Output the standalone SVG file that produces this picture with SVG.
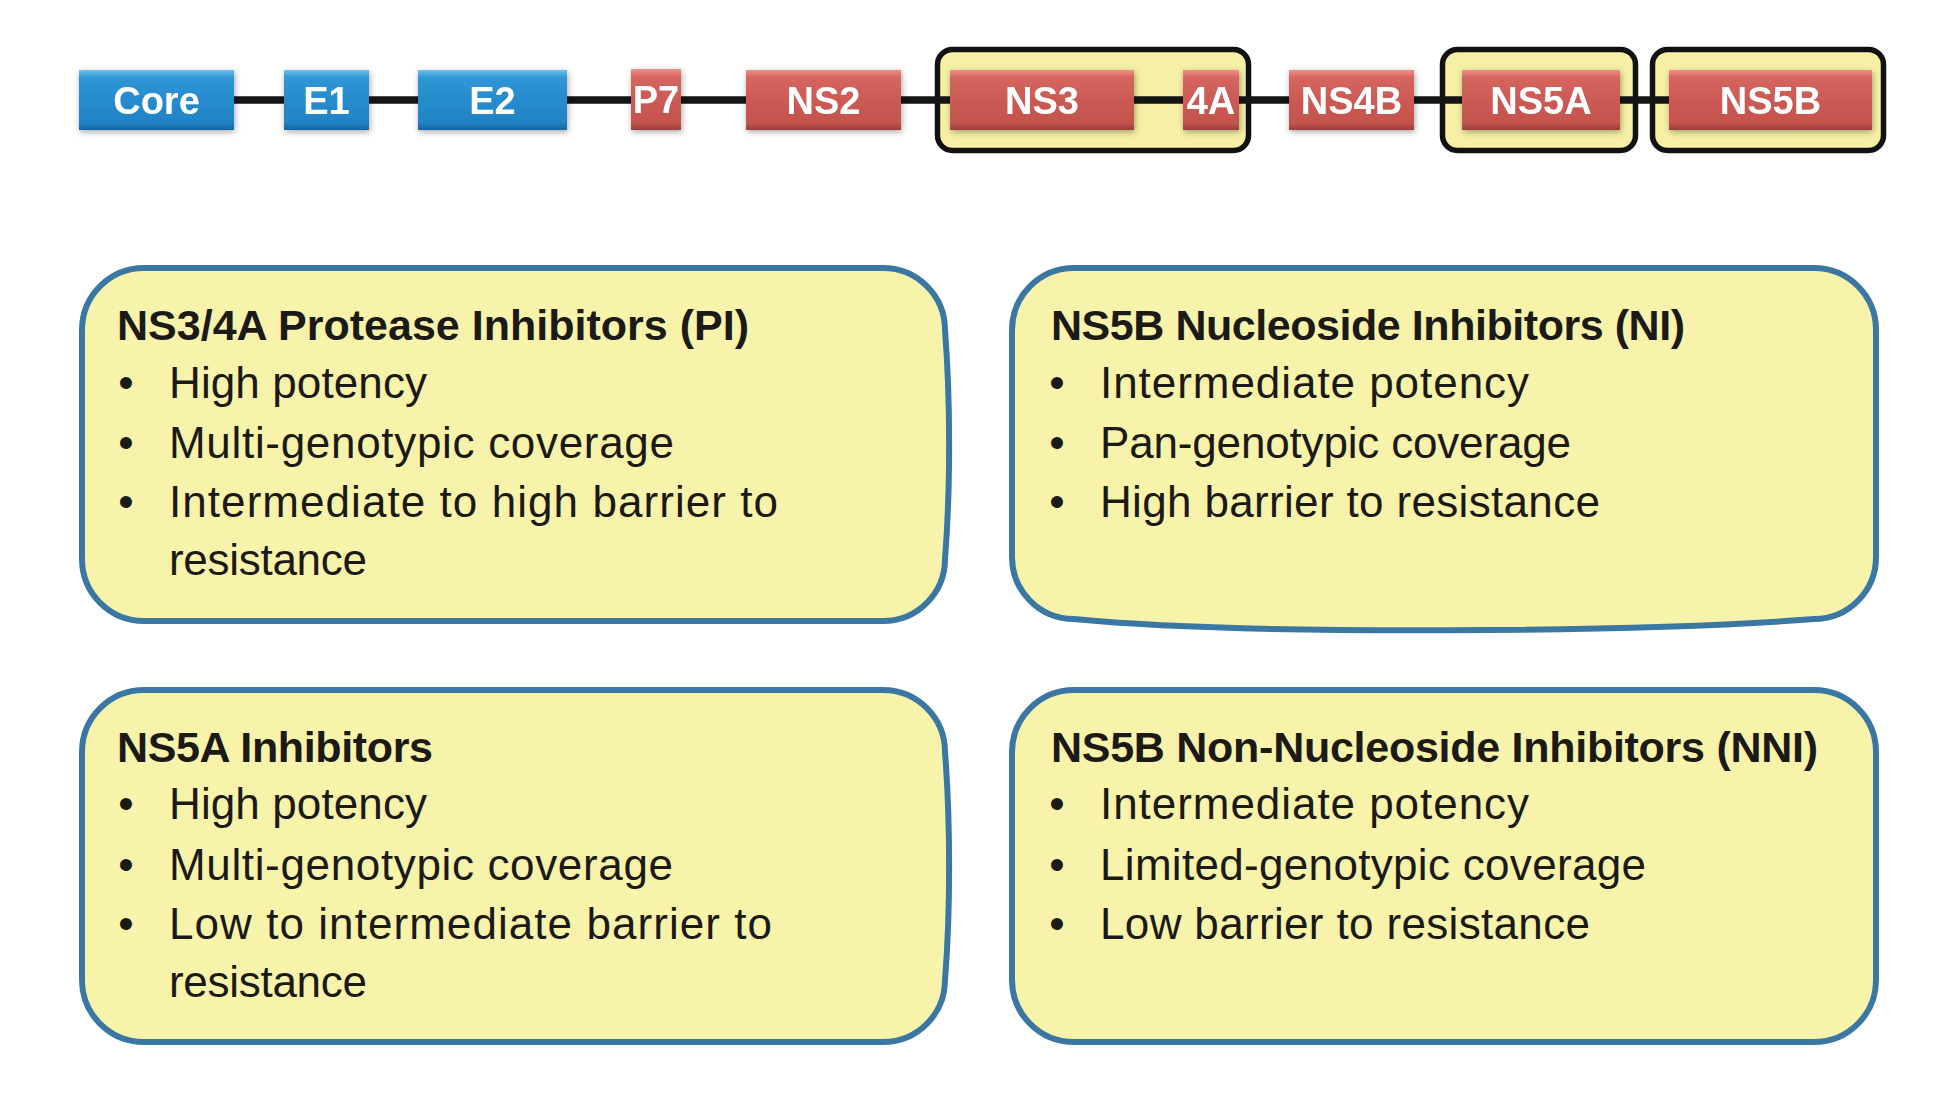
<svg xmlns="http://www.w3.org/2000/svg" width="1934" height="1098" viewBox="0 0 1934 1098">
<defs>
<linearGradient id="gBlue" x1="0" y1="0" x2="0" y2="1">
<stop offset="0" stop-color="#6ec3f0"/>
<stop offset="0.12" stop-color="#3197d6"/>
<stop offset="0.5" stop-color="#268bcd"/>
<stop offset="0.88" stop-color="#2183c6"/>
<stop offset="1" stop-color="#17649e"/>
</linearGradient>
<linearGradient id="gRed" x1="0" y1="0" x2="0" y2="1">
<stop offset="0" stop-color="#f0928a"/>
<stop offset="0.12" stop-color="#d6665f"/>
<stop offset="0.5" stop-color="#cb5a54"/>
<stop offset="0.88" stop-color="#c4544e"/>
<stop offset="1" stop-color="#98403b"/>
</linearGradient>
<filter id="sh" x="-20%" y="-30%" width="140%" height="160%">
<feGaussianBlur in="SourceAlpha" stdDeviation="3"/>
<feOffset dx="1" dy="2" result="b"/>
<feComponentTransfer><feFuncA type="linear" slope="0.35"/></feComponentTransfer>
<feMerge><feMergeNode/><feMergeNode in="SourceGraphic"/></feMerge>
</filter>
</defs>
<style>
.hl{fill:#f6f0a6;stroke:#111;stroke-width:5.5}
.blue{fill:url(#gBlue)}
.red{fill:url(#gRed)}
.gl{font-family:"Liberation Sans",Arial,sans-serif;font-weight:bold;font-size:38px;fill:#fff;text-anchor:middle}
.conn{stroke:#151515;stroke-width:7.5;fill:none}
.card{fill:#f8f3aa;stroke:#3a78a3;stroke-width:6}
.ttl{font-family:"Liberation Sans",Arial,sans-serif;font-weight:bold;font-size:43px;fill:#1c1a17}
.bt{font-family:"Liberation Sans",Arial,sans-serif;font-size:44px;fill:#1c1a17}
.bl{font-family:"Liberation Sans",Arial,sans-serif;font-size:44px;fill:#1c1a17;text-anchor:middle}
</style>
<rect width="1934" height="1098" fill="#fff"/>

<g id="highlights">
<rect id="hl-ns3-4a" class="hl" x="937.5" y="49.5" width="311" height="101" rx="15"/>
<rect id="hl-ns5a" class="hl" x="1442.5" y="49.5" width="193" height="101" rx="15"/>
<rect id="hl-ns5b" class="hl" x="1652.5" y="49.5" width="231" height="101" rx="15"/>
</g>

<g id="connectors">
<line class="conn" x1="232" y1="100" x2="286" y2="100"/>
<line class="conn" x1="367" y1="100" x2="420" y2="100"/>
<line class="conn" x1="565" y1="100" x2="633" y2="100"/>
<line class="conn" x1="679" y1="100" x2="748" y2="100"/>
<line class="conn" x1="899" y1="100" x2="952" y2="100"/>
<line class="conn" x1="1132" y1="100" x2="1185" y2="100"/>
<line class="conn" x1="1237" y1="100" x2="1291" y2="100"/>
<line class="conn" x1="1412" y1="100" x2="1464" y2="100"/>
<line class="conn" x1="1618" y1="100" x2="1671" y2="100"/>
</g>

<g id="core" filter="url(#sh)"><rect class="blue" x="79" y="70" width="155" height="60"/><text class="gl" x="156.5" y="114">Core</text></g>
<g id="e1" filter="url(#sh)"><rect class="blue" x="284" y="70" width="85" height="60"/><text class="gl" x="326.5" y="114">E1</text></g>
<g id="e2" filter="url(#sh)"><rect class="blue" x="418" y="70" width="149" height="60"/><text class="gl" x="492.5" y="114">E2</text></g>
<g id="p7" filter="url(#sh)"><rect class="red" x="631" y="69" width="50" height="61"/><text class="gl" x="656" y="113">P7</text></g>
<g id="ns2" filter="url(#sh)"><rect class="red" x="746" y="70" width="155" height="60"/><text class="gl" x="823.5" y="114">NS2</text></g>
<g id="ns3" filter="url(#sh)"><rect class="red" x="950" y="70" width="184" height="60"/><text class="gl" x="1042" y="114">NS3</text></g>
<g id="ns4a" filter="url(#sh)"><rect class="red" x="1183" y="70" width="56" height="60"/><text class="gl" x="1211" y="114">4A</text></g>
<g id="ns4b" filter="url(#sh)"><rect class="red" x="1289" y="70" width="125" height="60"/><text class="gl" x="1351.5" y="114">NS4B</text></g>
<g id="ns5a" filter="url(#sh)"><rect class="red" x="1462" y="70" width="158" height="60"/><text class="gl" x="1541" y="114">NS5A</text></g>
<g id="ns5b" filter="url(#sh)"><rect class="red" x="1669" y="70" width="203" height="60"/><text class="gl" x="1770.5" y="114">NS5B</text></g>

<g id="card-pi">
<path class="card" d="M144,268 H883 A62,62 0 0 1 945,330 C950.5,400 950.5,490 945,559 A62,62 0 0 1 883,621 H144 A62,62 0 0 1 82,559 V330 A62,62 0 0 1 144,268 Z"/>
<text class="ttl" x="117" y="340" textLength="632" lengthAdjust="spacing">NS3/4A Protease Inhibitors (PI)</text>
<text class="bl" x="126" y="398">•</text><text class="bt" x="169" y="398" textLength="258" lengthAdjust="spacing">High potency</text>
<text class="bl" x="126" y="458">•</text><text class="bt" x="169" y="458" textLength="505" lengthAdjust="spacing">Multi-genotypic coverage</text>
<text class="bl" x="126" y="517">•</text><text class="bt" x="169" y="517" textLength="609" lengthAdjust="spacing">Intermediate to high barrier to</text>
<text class="bt" x="169" y="575" textLength="198" lengthAdjust="spacing">resistance</text>
</g>

<g id="card-ni">
<path class="card" d="M1074,268 H1814 A62,62 0 0 1 1876,330 V557 A62,62 0 0 1 1814,619 C1650,632 1250,636 1074,619 A62,62 0 0 1 1012,557 V330 A62,62 0 0 1 1074,268 Z"/>
<text class="ttl" x="1051" y="340" textLength="634" lengthAdjust="spacing">NS5B Nucleoside Inhibitors (NI)</text>
<text class="bl" x="1057" y="398">•</text><text class="bt" x="1100" y="398" textLength="429" lengthAdjust="spacing">Intermediate potency</text>
<text class="bl" x="1057" y="458">•</text><text class="bt" x="1100" y="458" textLength="471" lengthAdjust="spacing">Pan-genotypic coverage</text>
<text class="bl" x="1057" y="517">•</text><text class="bt" x="1100" y="517" textLength="500" lengthAdjust="spacing">High barrier to resistance</text>
</g>

<g id="card-ns5a">
<path class="card" d="M144,690 H883 A62,62 0 0 1 945,752 C950.5,822 950.5,912 945,980 A62,62 0 0 1 883,1042 H144 A62,62 0 0 1 82,980 V752 A62,62 0 0 1 144,690 Z"/>
<text class="ttl" x="117" y="762" textLength="316" lengthAdjust="spacing">NS5A Inhibitors</text>
<text class="bl" x="126" y="819">•</text><text class="bt" x="169" y="819" textLength="258" lengthAdjust="spacing">High potency</text>
<text class="bl" x="126" y="880">•</text><text class="bt" x="169" y="880" textLength="504" lengthAdjust="spacing">Multi-genotypic coverage</text>
<text class="bl" x="126" y="939">•</text><text class="bt" x="169" y="939" textLength="603" lengthAdjust="spacing">Low to intermediate barrier to</text>
<text class="bt" x="169" y="997" textLength="198" lengthAdjust="spacing">resistance</text>
</g>

<g id="card-nni">
<path class="card" d="M1074,690 H1814 A62,62 0 0 1 1876,752 V980 A62,62 0 0 1 1814,1042 H1074 A62,62 0 0 1 1012,980 V752 A62,62 0 0 1 1074,690 Z"/>
<text class="ttl" x="1051" y="762" textLength="767" lengthAdjust="spacing">NS5B Non-Nucleoside Inhibitors (NNI)</text>
<text class="bl" x="1057" y="819">•</text><text class="bt" x="1100" y="819" textLength="429" lengthAdjust="spacing">Intermediate potency</text>
<text class="bl" x="1057" y="880">•</text><text class="bt" x="1100" y="880" textLength="546" lengthAdjust="spacing">Limited-genotypic coverage</text>
<text class="bl" x="1057" y="939">•</text><text class="bt" x="1100" y="939" textLength="490" lengthAdjust="spacing">Low barrier to resistance</text>
</g>
</svg>
